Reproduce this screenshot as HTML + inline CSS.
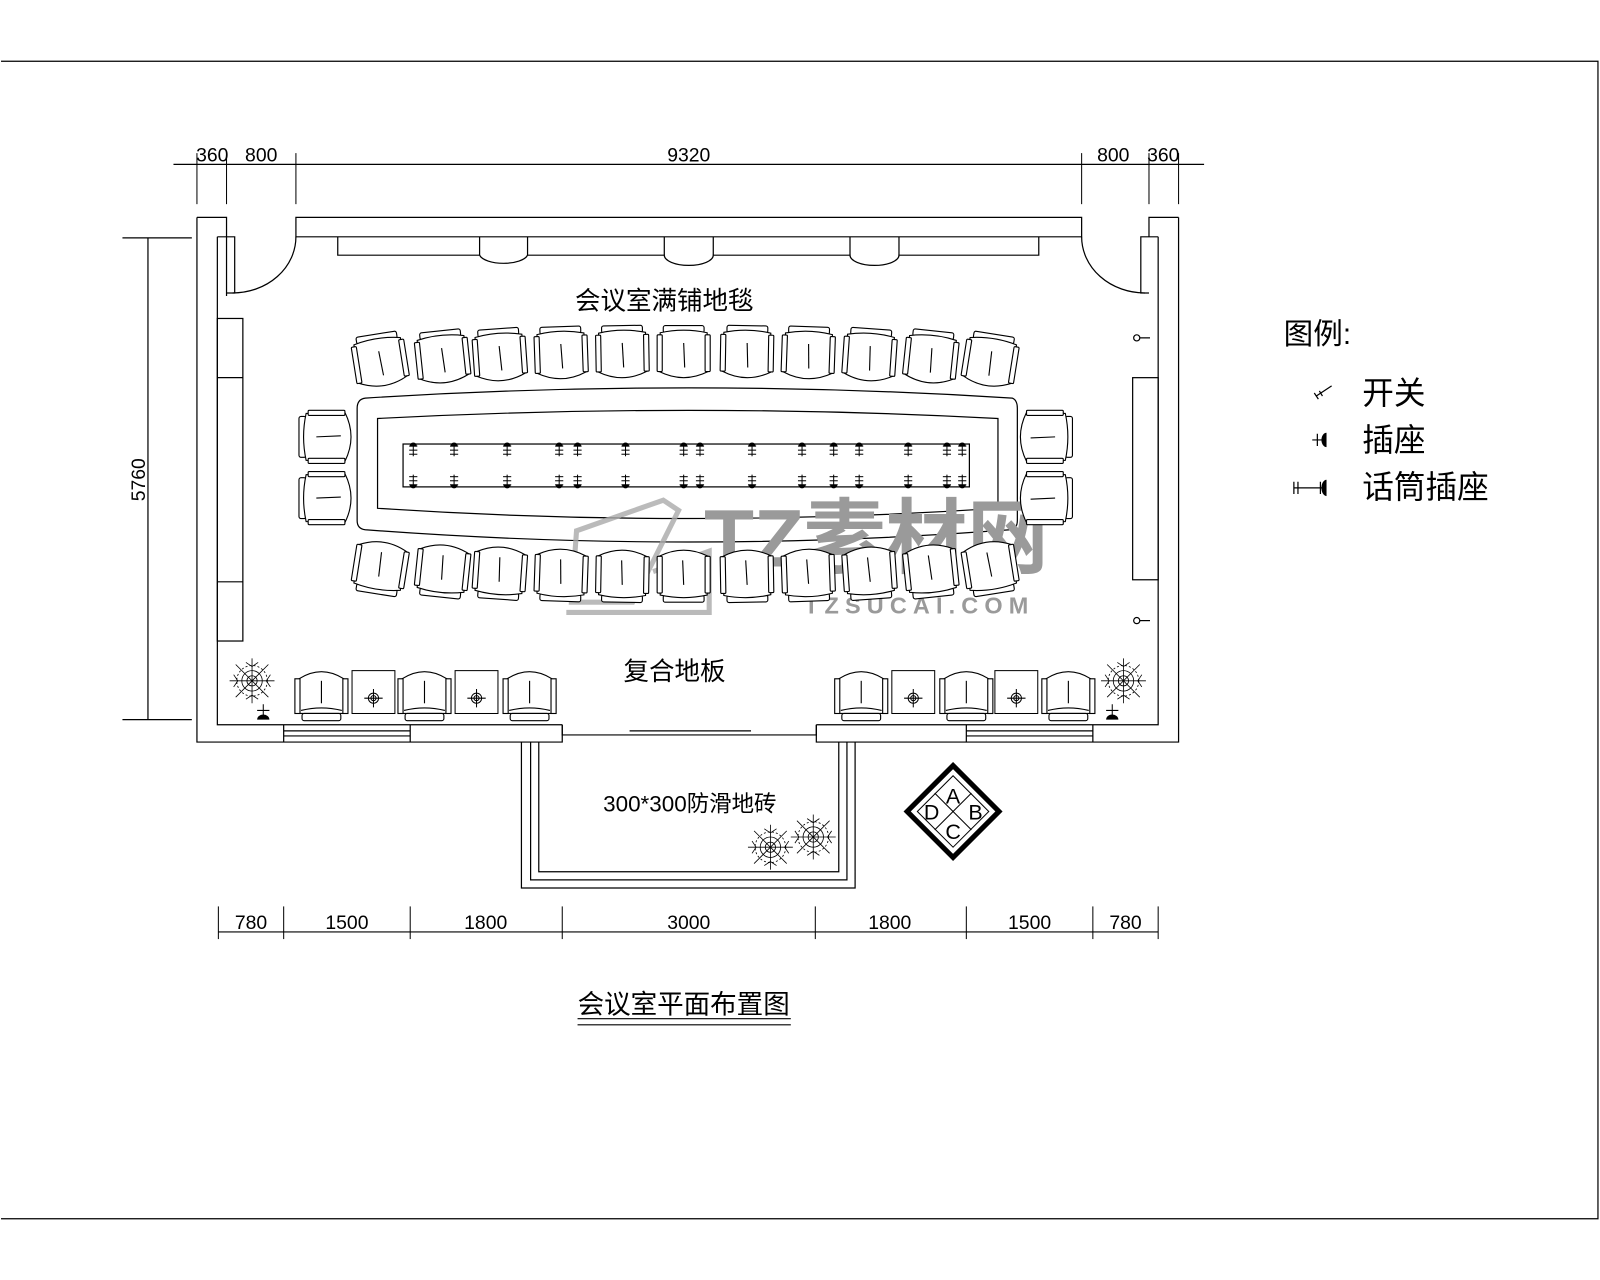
<!DOCTYPE html>
<html><head><meta charset="utf-8"><style>
html,body{margin:0;padding:0;background:#fff;width:1600px;height:1280px;overflow:hidden}
svg{display:block}
text{font-family:"Liberation Sans","Noto Sans CJK SC",sans-serif;fill:#000}
</style></head><body>
<svg width="1600" height="1280" viewBox="0 0 1568 1254" preserveAspectRatio="none" xmlns="http://www.w3.org/2000/svg">
<defs>
<g id="ch" fill="#fff" stroke="#000" stroke-width="1.1">
<rect x="-20" y="-29" width="40" height="7" rx="2"/>
<path d="M-23 -22 Q0 -27 23 -22 L24 16 Q0 28 -24 16 Z"/>
<rect x="-26" y="-20" width="5" height="36" rx="1"/>
<rect x="21" y="-20" width="5" height="36" rx="1"/>
<line x1="0" y1="-12" x2="1" y2="12"/>
</g>
<g id="sofa" fill="#fff" stroke="#000" stroke-width="1.1">
<path d="M-22 -16 Q0 -30 22 -16 L22 18 L-22 18 Z"/>
<rect x="-19" y="18" width="38" height="7" rx="2"/>
<rect x="-26" y="-16" width="5" height="34"/>
<rect x="21" y="-16" width="5" height="34"/>
<line x1="0" y1="-14" x2="0" y2="8"/>
<path d="M-20 15 Q0 10 20 15" fill="none"/>
</g>
<g id="stb" fill="#fff" stroke="#000" stroke-width="1">
<rect x="-21" y="-21" width="42" height="42"/>
<circle cx="0" cy="6" r="5" fill="none"/><circle cx="0" cy="6" r="2.5" fill="none"/>
<line x1="-9" y1="6" x2="9" y2="6"/><line x1="0" y1="-3" x2="0" y2="15"/>
</g>
<g id="mk" stroke="#000" stroke-width="1">
<line x1="-4" y1="0" x2="4" y2="0"/><line x1="-4" y1="4" x2="4" y2="4"/><line x1="-4" y1="8" x2="4" y2="8"/><line x1="0" y1="0" x2="0" y2="10"/>
<path d="M-3 0 A3 3 0 0 1 3 0 Z" fill="#000"/>
</g>
<g id="plant" stroke="#000" stroke-width="0.8" fill="none">
<line x1="0" y1="-22" x2="0" y2="22"/><line x1="-22" y1="0" x2="22" y2="0"/>
<line x1="-16" y1="-16" x2="16" y2="16"/><line x1="16" y1="-16" x2="-16" y2="16"/>
<circle r="10"/><circle r="5"/><circle r="15" stroke-dasharray="2 2"/>
<path d="M-6 -18 L0 -14 L6 -18 M-6 18 L0 14 L6 18 M-18 -6 L-14 0 L-18 6 M18 -6 L14 0 L18 6"/>
</g>
</defs>
<g fill="none" stroke="#000" stroke-width="1.2">
<path d="M1 60 H1566 V1194 H1"/>
<line x1="170" y1="161" x2="1180" y2="161"/>
<g stroke-width="1">
<line x1="193" y1="150" x2="193" y2="200"/><line x1="222" y1="150" x2="222" y2="200"/><line x1="290" y1="150" x2="290" y2="200"/>
<line x1="1060" y1="150" x2="1060" y2="200"/><line x1="1126" y1="150" x2="1126" y2="200"/><line x1="1155" y1="150" x2="1155" y2="200"/>
</g>
<line x1="145" y1="233" x2="145" y2="705"/>
<line x1="120" y1="233" x2="188" y2="233"/><line x1="120" y1="705" x2="188" y2="705"/>
<path d="M193 213 H222 V232 M193 213 V727 H551 V710 M222 232 V290 M213 232 H230 V287 H222"/>
<path d="M213 232 V710 H551"/>
<path d="M290 213 H1060 V232 H290 Z"/>
<path d="M1155 213 H1126 V232 M1155 213 V727 H800 V710 M1135 232 V710 H800"/>
<path d="M1135 232 H1118 V287 H1126"/>
<path d="M290 232 A62 55 0 0 1 228 287"/>
<path d="M1060 232 A62 55 0 0 0 1122 287"/>
<path d="M278 710 V727 M402 710 V727 M278 716 H402 M278 721 H402"/>
<path d="M947 710 V727 M1071 710 V727 M947 716 H1071 M947 721 H1071"/>
<path d="M551 710 V720 H800 V710 M617 716 H736"/>
<rect x="213" y="312" width="25" height="316"/><line x1="213" y1="370" x2="238" y2="370"/><line x1="213" y1="570" x2="238" y2="570"/>
<rect x="1110" y="370" width="25" height="198"/>
<path d="M331 232 V250 H470 A24 10 0 0 0 517 250 H651 A24 10 0 0 0 699 250 H833 A24 10 0 0 0 881 250 H1018 V232"/>
<path d="M470 232 V250 M517 232 V250 M651 232 V250 M699 232 V250 M833 232 V250 M881 232 V250"/>
<path d="M511 727 V870 H838 V727 M520 727 V862 H830 V727 M528 727 V854 H822 V727"/>
<path d="M358 390 Q675 370 992 390 Q997 392 997 400 V510 Q997 518 990 519 Q675 543 358 519 Q350 518 350 510 V400 Q350 391 358 390 Z"/>
<path d="M370 410 Q675 394 978 410 V498 Q675 518 370 498 Z"/>
<rect x="395" y="435" width="555" height="42"/>
<line x1="566" y1="998" x2="775" y2="998"/><line x1="566" y1="1004" x2="775" y2="1004"/>
<line x1="214" y1="913" x2="1135" y2="913"/>
<g stroke-width="1">
<line x1="214" y1="888" x2="214" y2="920"/><line x1="278" y1="888" x2="278" y2="920"/><line x1="402" y1="888" x2="402" y2="920"/><line x1="551" y1="888" x2="551" y2="920"/><line x1="799" y1="888" x2="799" y2="920"/><line x1="947" y1="888" x2="947" y2="920"/><line x1="1071" y1="888" x2="1071" y2="920"/><line x1="1135" y1="888" x2="1135" y2="920"/>
</g>
<circle cx="1114" cy="331" r="3"/><line x1="1117" y1="331" x2="1127" y2="331"/>
<circle cx="1114" cy="608" r="3"/><line x1="1117" y1="608" x2="1127" y2="608"/>
</g>
<g stroke="#aaa" stroke-width="5" fill="none" opacity="0.8">
<path d="M565 520 L650 490 L665 500 L620 590 L560 590 Z"/>
<path d="M555 600 L695 600 L695 540 L640 560"/>
</g>
<text x="690" y="555" font-size="80" font-weight="bold" style="fill:#9a9a9a">TZ素材网</text>
<text x="788" y="601" font-size="23" font-weight="bold" letter-spacing="6" style="fill:#9a9a9a">TZSUCAI.COM</text>
<g>
<use href="#mk" x="405" y="437"/><use href="#mk" x="445" y="437"/><use href="#mk" x="497" y="437"/><use href="#mk" x="548" y="437"/><use href="#mk" x="566" y="437"/><use href="#mk" x="613" y="437"/><use href="#mk" x="670" y="437"/><use href="#mk" x="686" y="437"/><use href="#mk" x="737" y="437"/><use href="#mk" x="786" y="437"/><use href="#mk" x="817" y="437"/><use href="#mk" x="842" y="437"/><use href="#mk" x="890" y="437"/><use href="#mk" x="928" y="437"/><use href="#mk" x="943" y="437"/>
<g transform="translate(0,912) scale(1,-1)">
<use href="#mk" x="405" y="437"/><use href="#mk" x="445" y="437"/><use href="#mk" x="497" y="437"/><use href="#mk" x="548" y="437"/><use href="#mk" x="566" y="437"/><use href="#mk" x="613" y="437"/><use href="#mk" x="670" y="437"/><use href="#mk" x="686" y="437"/><use href="#mk" x="737" y="437"/><use href="#mk" x="786" y="437"/><use href="#mk" x="817" y="437"/><use href="#mk" x="842" y="437"/><use href="#mk" x="890" y="437"/><use href="#mk" x="928" y="437"/><use href="#mk" x="943" y="437"/>
</g>
</g>
<use href="#ch" transform="translate(373,356) rotate(-9)"/>
<use href="#ch" transform="translate(434,353) rotate(-6)"/>
<use href="#ch" transform="translate(490,351) rotate(-4)"/>
<use href="#ch" transform="translate(550,349) rotate(-2)"/>
<use href="#ch" transform="translate(610,348) rotate(-1)"/>
<use href="#ch" transform="translate(670,348)"/>
<use href="#ch" transform="translate(732,348) rotate(1)"/>
<use href="#ch" transform="translate(792,349) rotate(2)"/>
<use href="#ch" transform="translate(852,351) rotate(4)"/>
<use href="#ch" transform="translate(912,353) rotate(6)"/>
<use href="#ch" transform="translate(970,356) rotate(9)"/>
<use href="#ch" transform="translate(373,553) rotate(189)"/>
<use href="#ch" transform="translate(434,556) rotate(186)"/>
<use href="#ch" transform="translate(490,558) rotate(184)"/>
<use href="#ch" transform="translate(550,560) rotate(182)"/>
<use href="#ch" transform="translate(610,561) rotate(181)"/>
<use href="#ch" transform="translate(670,561) rotate(180)"/>
<use href="#ch" transform="translate(732,561) rotate(179)"/>
<use href="#ch" transform="translate(792,560) rotate(178)"/>
<use href="#ch" transform="translate(852,558) rotate(176)"/>
<use href="#ch" transform="translate(912,556) rotate(174)"/>
<use href="#ch" transform="translate(970,553) rotate(171)"/>
<use href="#ch" transform="translate(322,428) rotate(-90)"/>
<use href="#ch" transform="translate(322,488) rotate(-90)"/>
<use href="#ch" transform="translate(1022,428) rotate(90)"/>
<use href="#ch" transform="translate(1022,488) rotate(90)"/>
<use href="#sofa" x="315" y="681"/><use href="#stb" x="366" y="678"/><use href="#sofa" x="416" y="681"/><use href="#stb" x="467" y="678"/><use href="#sofa" x="519" y="681"/>
<use href="#sofa" x="844" y="681"/><use href="#stb" x="895" y="678"/><use href="#sofa" x="947" y="681"/><use href="#stb" x="996" y="678"/><use href="#sofa" x="1047" y="681"/>
<use href="#plant" x="247" y="667"/><use href="#plant" x="1101" y="667"/>
<use href="#plant" x="755" y="830"/><use href="#plant" x="797" y="820"/>
<path d="M252 705 A6 5 0 0 1 264 705 Z M1084 705 A6 5 0 0 1 1096 705 Z" fill="#000"/>
<path d="M258 690 V702 M252 696 H264 M1090 690 V702 M1084 696 H1096" stroke="#000"/>
<g stroke="#000" fill="#fff">
<path d="M934 750 L979 795 L934 840 L889 795 Z" stroke-width="5"/>
<path d="M934 760 L969 795 L934 830 L899 795 Z" stroke-width="1"/>
<line x1="916" y1="777" x2="952" y2="813"/><line x1="952" y1="777" x2="916" y2="813"/>
</g>
<text x="934" y="787" font-size="21" text-anchor="middle">A</text>
<text x="956" y="803" font-size="21" text-anchor="middle">B</text>
<text x="934" y="822" font-size="21" text-anchor="middle">C</text>
<text x="913" y="803" font-size="21" text-anchor="middle">D</text>
<g font-size="19">
<text x="208" y="158" text-anchor="middle">360</text>
<text x="256" y="158" text-anchor="middle">800</text>
<text x="675" y="158" text-anchor="middle">9320</text>
<text x="1091" y="158" text-anchor="middle">800</text>
<text x="1140" y="158" text-anchor="middle">360</text>
<text transform="translate(142,470) rotate(-90)" text-anchor="middle">5760</text>
<text x="246" y="910" text-anchor="middle">780</text>
<text x="340" y="910" text-anchor="middle">1500</text>
<text x="476" y="910" text-anchor="middle">1800</text>
<text x="675" y="910" text-anchor="middle">3000</text>
<text x="872" y="910" text-anchor="middle">1800</text>
<text x="1009" y="910" text-anchor="middle">1500</text>
<text x="1103" y="910" text-anchor="middle">780</text>
</g>
<text x="651" y="303" font-size="25" text-anchor="middle">会议室满铺地毯</text>
<text x="661" y="666" font-size="25" text-anchor="middle">复合地板</text>
<text x="676" y="795" font-size="22" text-anchor="middle">300*300防滑地砖</text>
<text x="670" y="993" font-size="26" text-anchor="middle">会议室平面布置图</text>
<text x="1258" y="337" font-size="29">图例:</text>
<text x="1335" y="396" font-size="31">开关</text>
<text x="1335" y="442" font-size="31">插座</text>
<text x="1335" y="488" font-size="31">话筒插座</text>
<g stroke="#000" stroke-width="1.2" fill="none">
<path d="M1290 388 L1305 378 M1288 385 L1292 391 M1293 383 L1296 388"/>
<path d="M1286 431 H1298 M1291 425 V437"/>
<path d="M1268 478 H1298 M1294 472 V484 M1268 472 V484 M1272 472 V484"/>
</g>
<path d="M1300 424 A5 7 0 0 0 1300 438 Z M1300 470 A5 8 0 0 0 1300 486 Z" fill="#000"/>
</svg>
</body></html>
